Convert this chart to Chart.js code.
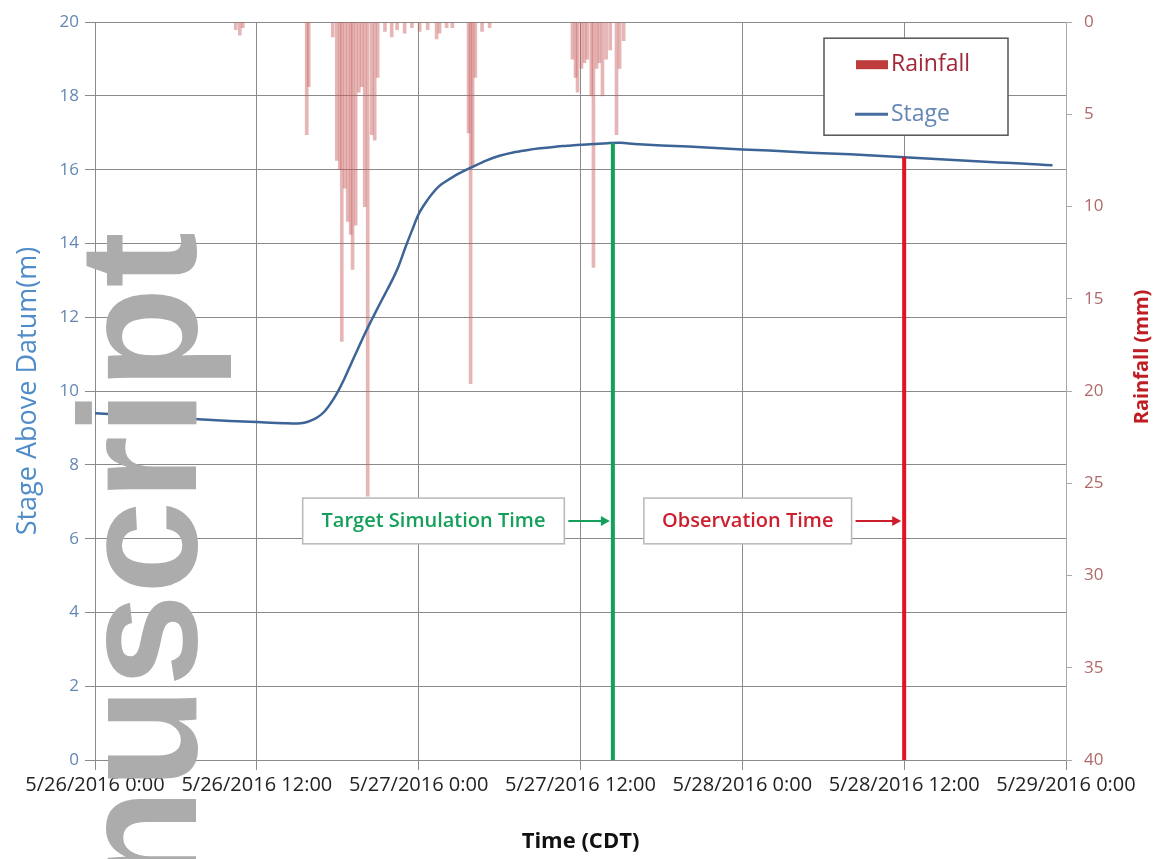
<!DOCTYPE html>
<html>
<head>
<meta charset="utf-8">
<script src="https://cdn.jsdelivr.net/npm/chart.js@4/dist/chart.umd.min.js"></script>
<style>
  html, body { margin: 0; padding: 0; background: #fff; }
  #wrap { width: 1160px; height: 859px; position: relative; }
</style>
</head>
<body>
<div id="wrap"><canvas id="myChart"></canvas></div>
<script>
// hours after 5/26/2016 0:00 (CDT)
const xTickLabels = ["5/26/2016 0:00", "5/26/2016 12:00", "5/27/2016 0:00", "5/27/2016 12:00",
  "5/28/2016 0:00", "5/28/2016 12:00", "5/29/2016 0:00"];

const stageHours = [0, 2, 4, 6, 8, 10, 12, 14, 15, 15.5, 16, 16.5, 17, 17.5, 18, 18.5, 19, 19.5, 20,
  20.5, 21, 21.5, 22, 22.5, 23, 23.5, 24, 24.5, 25, 25.5, 26, 27, 28, 29, 30, 31, 32, 33, 34, 35,
  36, 37, 38, 39, 40, 42, 44, 46, 48, 50, 52, 54, 56, 58, 60, 62, 64, 66, 68, 70, 71];
const stageValues = [9.40, 9.36, 9.31, 9.27, 9.23, 9.19, 9.16, 9.13, 9.12, 9.14, 9.20, 9.29, 9.44,
  9.68, 9.98, 10.34, 10.75, 11.15, 11.55, 11.92, 12.28, 12.63, 12.98, 13.38, 13.88, 14.35, 14.80,
  15.10, 15.35, 15.55, 15.68, 15.90, 16.08, 16.25, 16.38, 16.47, 16.53, 16.58, 16.62, 16.65, 16.68,
  16.70, 16.72, 16.73, 16.70, 16.66, 16.63, 16.59, 16.55, 16.52, 16.48, 16.45, 16.42, 16.38, 16.34,
  16.30, 16.26, 16.22, 16.18, 16.14, 16.12];

const rainHours = [10.44, 10.74, 10.96, 15.7, 15.85, 17.63, 17.93, 18.15, 18.3, 18.52, 18.74, 18.96,
  19.1, 19.33, 19.56, 19.78, 20.0, 20.22, 20.52, 20.74, 20.96, 21.5, 22.0, 22.4, 22.96, 23.5, 24.07,
  24.67, 25.33, 25.55, 26.07, 26.5, 27.7, 27.85, 28.0, 28.2, 28.7, 29.26, 35.4, 35.63, 35.78, 36.07,
  36.3, 36.5, 36.8, 36.96, 37.2, 37.4, 37.63, 37.9, 38.2, 38.67, 38.9, 39.2];
const rainMm = [0.4, 0.7, 0.3, 6.1, 3.5, 0.8, 7.5, 8.0, 17.3, 9.0, 10.8, 11.5, 13.4, 11.0, 3.8, 3.5,
  10.0, 25.7, 6.1, 6.4, 3.0, 0.5, 0.8, 0.4, 0.6, 0.3, 0.5, 0.4, 0.9, 0.6, 0.3, 0.3, 6.0, 19.6, 7.8,
  3.0, 0.5, 0.3, 2.0, 3.0, 3.8, 2.5, 2.2, 2.0, 4.0, 13.3, 2.5, 2.2, 4.0, 2.0, 1.5, 6.1, 2.5, 1.0];

const targetHour = 38.4;
const observationHour = 60;

const font = "'Open Sans', 'Noto Sans', sans-serif";

function stageAt(h)
{
  for (let i = 1; i < stageHours.length; i++)
  {
    if (stageHours[i] >= h)
    {
      const t = (h - stageHours[i - 1]) / (stageHours[i] - stageHours[i - 1]);
      return stageValues[i - 1] + t * (stageValues[i] - stageValues[i - 1]);
    }
  }
  return stageValues[stageValues.length - 1];
}

const stagePoints = stageHours.map((h, i) => ({x: h, y: stageValues[i]}));
const rainPoints = rainHours.map((h, i) => ({x: h, y: rainMm[i]}));

const annotations = {
  id: "annotations",
  afterDatasetsDraw(chart)
  {
    const ctx = chart.ctx;
    const xs = chart.scales.x;
    const ys = chart.scales.y;
    const items = [
      {text: "Target Simulation Time", color: "rgb(20,160,90)", h0: 15.4, h1: 34.8, end: targetHour},
      {text: "Observation Time", color: "rgb(205,30,45)", h0: 40.7, h1: 56.1, end: observationHour},
    ];
    ctx.save();
    for (const it of items)
    {
      const left = xs.getPixelForValue(it.h0);
      const right = xs.getPixelForValue(it.h1);
      const top = ys.getPixelForValue(7.1);
      const bottom = ys.getPixelForValue(5.86);
      const mid = (top + bottom) / 2;
      ctx.fillStyle = "#fff";
      ctx.fillRect(left, top, right - left, bottom - top);
      ctx.strokeStyle = "#b8b8b8";
      ctx.lineWidth = 1.5;
      ctx.strokeRect(left, top, right - left, bottom - top);
      ctx.fillStyle = it.color;
      ctx.font = "600 20px " + font;
      ctx.textAlign = "center";
      ctx.textBaseline = "middle";
      ctx.fillText(it.text, (left + right) / 2, mid);
      // arrow
      const ax0 = right + 4;
      const ax1 = xs.getPixelForValue(it.end) - 3;
      ctx.strokeStyle = it.color;
      ctx.lineWidth = 2;
      ctx.beginPath();
      ctx.moveTo(ax0, mid);
      ctx.lineTo(ax1 - 6, mid);
      ctx.stroke();
      ctx.beginPath();
      ctx.moveTo(ax1, mid);
      ctx.lineTo(ax1 - 9, mid - 5);
      ctx.lineTo(ax1 - 9, mid + 5);
      ctx.closePath();
      ctx.fill();
    }

    // legend box
    const area = chart.chartArea;
    const lx = area.right - 242;
    const ly = area.top + 16;
    ctx.fillStyle = "#fff";
    ctx.fillRect(lx, ly, 184, 97);
    ctx.strokeStyle = "#555";
    ctx.lineWidth = 1.5;
    ctx.strokeRect(lx, ly, 184, 97);
    ctx.fillStyle = "rgb(190,60,60)";
    ctx.fillRect(lx + 32, ly + 22, 32, 9);
    ctx.strokeStyle = "rgb(70,110,160)";
    ctx.lineWidth = 3;
    ctx.beginPath();
    ctx.moveTo(lx + 31, ly + 76);
    ctx.lineTo(lx + 64, ly + 76);
    ctx.stroke();
    ctx.font = "23px " + font;
    ctx.textAlign = "left";
    ctx.textBaseline = "middle";
    ctx.fillStyle = "rgb(160,40,55)";
    ctx.fillText("Rainfall", lx + 67, ly + 26);
    ctx.fillStyle = "rgb(100,135,180)";
    ctx.fillText("Stage", lx + 67, ly + 76);

    // right axis title
    ctx.save();
    ctx.translate(1142, 357);
    ctx.rotate(-Math.PI / 2);
    ctx.font = "bold 20px " + font;
    ctx.fillStyle = "rgb(190,30,35)";
    ctx.textAlign = "center";
    ctx.fillText("Rainfall (mm)", 0, 0);
    ctx.restore();

    // watermark
    ctx.save();
    ctx.translate(196, 232);
    ctx.rotate(-Math.PI / 2);
    ctx.font = "bold 167px 'Liberation Sans', sans-serif";
    ctx.fillStyle = "rgb(172,172,172)";
    ctx.textAlign = "right";
    ctx.textBaseline = "alphabetic";
    ctx.fillText("manuscript", 0, 0);
    ctx.restore();
    ctx.restore();
  }
};

const Chart = window.Chart;

new Chart(document.getElementById("myChart"), {
  data: {
    datasets: [
      {
        type: "line",
        label: "Target",
        data: [{x: targetHour, y: 0}, {x: targetHour, y: stageAt(targetHour)}],
        borderColor: "rgb(20,160,90)",
        borderWidth: 4,
        pointRadius: 0,
        yAxisID: "y",
        order: 1,
      },
      {
        type: "line",
        label: "Observation",
        data: [{x: observationHour, y: 0}, {x: observationHour, y: stageAt(observationHour)}],
        borderColor: "rgb(225,20,35)",
        borderWidth: 4,
        pointRadius: 0,
        yAxisID: "y",
        order: 1,
      },
      {
        type: "line",
        label: "Stage",
        data: stagePoints,
        borderColor: "rgb(60,100,150)",
        borderWidth: 2.5,
        pointRadius: 0,
        tension: 0.3,
        yAxisID: "y",
        order: 2,
      },
      {
        type: "bar",
        label: "Rainfall",
        data: rainPoints,
        backgroundColor: "rgba(200,90,90,0.45)",
        barThickness: 3,
        yAxisID: "y2",
        order: 3,
      },
    ],
  },
  options: {
    responsive: true,
    maintainAspectRatio: false,
    animation: false,
    devicePixelRatio: 1,
    layout: {padding: {top: 20, left: 0, right: 0, bottom: 0}},
    plugins: {
      legend: {display: false},
      tooltip: {enabled: false},
    },
    scales: {
      x: {
        type: "linear",
        position: "bottom",
        offset: false,
        min: 0,
        max: 72,
        ticks: {
          stepSize: 12,
          autoSkip: false,
          maxRotation: 0,
          color: "#222",
          font: {family: font, size: 20},
          padding: 3,
          callback: v => xTickLabels[v / 12],
        },
        grid: {color: "#8a8a8a", tickLength: 10, offset: false},
        border: {color: "#8a8a8a"},
        title: {display: true, text: "Time (CDT)", color: "#111", font: {family: font, size: 22, weight: "bold"}, padding: {top: 16}},
        afterFit: scale => { scale.height = 99; },
      },
      y: {
        position: "left",
        min: 0,
        max: 20,
        ticks: {stepSize: 2, color: "rgb(100,135,180)", font: {family: font, size: 17}, padding: 6},
        grid: {color: "#8a8a8a", tickLength: 10},
        border: {color: "#8a8a8a"},
        title: {display: true, text: "Stage Above Datum(m)", color: "rgb(80,140,200)", font: {family: font, size: 27}, padding: {top: 12, bottom: 0}},
        afterFit: scale => { scale.width = 95; },
      },
      y2: {
        position: "right",
        min: 0,
        max: 40,
        reverse: true,
        ticks: {stepSize: 5, color: "rgb(175,105,105)", font: {family: font, size: 17}, padding: 12},
        grid: {drawOnChartArea: false, color: "#aaa", tickLength: 6},
        border: {color: "#aaa"},
        title: {display: false},
        afterFit: scale => { scale.width = 94; },
      },
    },
  },
  plugins: [annotations],
});
</script>
</body>
</html>
